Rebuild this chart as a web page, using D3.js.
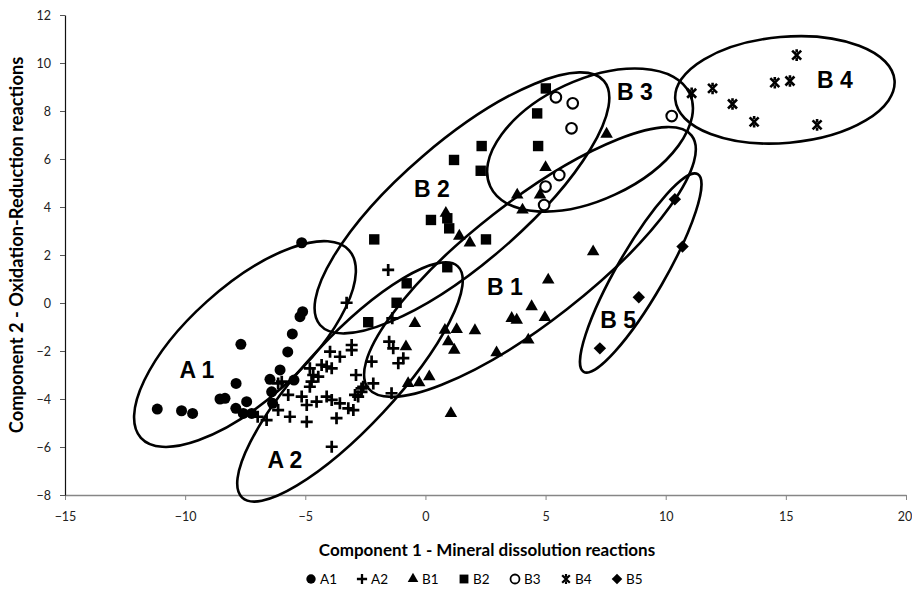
<!DOCTYPE html>
<html>
<head>
<meta charset="utf-8">
<script src="https://cdn.jsdelivr.net/npm/d3@7"></script>
<style>
  body { margin: 0; background: #fff; }
  text { font-family: Lato, "Open Sans", sans-serif; }
  .lbl { font-family: "Liberation Sans", Arial, sans-serif; font-weight: bold; font-size: 23px; }
</style>
</head>
<body>
<svg width="912" height="597"></svg>
<script>
var a1 = [[-11.16,-4.42],[-10.15,-4.49],[-9.69,-4.6],[-8.55,-4.0],[-8.34,-3.97],[-7.88,-3.35],[-7.68,-1.72],
  [-7.44,-4.11],[-7.89,-4.39],[-7.58,-4.6],[-7.23,-4.6],[-6.47,-3.18],[-6.4,-3.7],[-6.36,-4.18],[-6.05,-2.79],
  [-5.73,-2.04],[-5.54,-1.29],[-5.47,-3.21],[-5.22,-0.57],[-5.11,-0.36],[-5.15,2.51]];
var a2 = [[-1.55,1.38],[-3.28,0.01],[-1.38,-0.64],[-1.51,-1.61],[-1.34,-1.89],[-2.24,-2.44],[-1.13,-2.51],
  [-0.92,-2.3],[-3.07,-1.75],[-3.07,-1.96],[-3.97,-2.03],[-3.56,-2.24],[-4.32,-2.58],[-4.11,-2.65],[-3.9,-2.72],
  [-4.81,-2.72],[-4.67,-3.0],[-4.46,-3.07],[-4.81,-3.49],[-4.74,-3.28],[-2.89,-3.0],[-2.59,-3.49],[-2.66,-3.7],
  [-2.93,-3.83],[-2.8,-3.9],[-2.17,-3.35],[-1.41,-3.76],[-5.98,-3.28],[-5.71,-3.83],[-5.15,-3.9],[-4.94,-4.25],
  [-4.53,-4.11],[-4.11,-3.9],[-3.9,-4.04],[-3.56,-4.18],[-3.21,-4.39],[-3.0,-4.46],[-6.13,-4.46],[-5.64,-4.74],
  [-6.61,-4.88],[-4.94,-4.95],[-3.7,-4.8],[-3.9,-5.99],[-6.13,-3.35],[-6.98,-4.74],[-2.66,-3.56]];
var b1 = [[7.54,7.04],[5.0,5.65],[3.82,4.5],[4.77,4.5],[4.04,3.88],[0.85,3.74],[1.41,2.79],[1.85,2.51],
  [6.98,2.14],[5.11,0.96],[4.42,-0.15],[3.59,-0.64],[3.8,-0.71],[4.97,-0.6],[4.28,-1.54],[2.96,-2.07],
  [-0.44,-0.85],[0.81,-1.13],[1.3,-1.1],[2.06,-1.15],[0.95,-1.61],[1.2,-1.96],[-0.81,-1.82],[0.16,-3.07],
  [-0.26,-3.32],[-0.72,-3.35],[1.06,-4.6]];
var b2 = [[2.34,6.54],[1.19,5.96],[2.3,5.51],[4.69,6.54],[0.23,3.46],[0.91,3.53],[0.99,3.11],[2.52,2.65],
  [-2.13,2.65],[0.91,1.49],[-0.78,0.82],[-1.2,0.01],[-2.38,-0.8],[5.01,8.94],[4.65,7.9]];
var b3 = [[5.43,8.57],[6.13,8.32],[6.08,7.28],[5.57,5.33],[5.0,4.85],[4.94,4.08],[10.25,7.79]];
var b4 = [[11.08,8.74],[11.95,8.94],[12.78,8.29],[13.68,7.55],[14.54,9.18],[15.17,9.25],[15.45,10.33],[16.3,7.42]];
var b5 = [[10.38,4.32],[10.7,2.35],[8.88,0.24],[7.26,-1.89]];

var groupNames = ["A1", "A2", "B1", "B2", "B3", "B4", "B5"];
var xTicks = [-15, -10, -5, 0, 5, 10, 15, 20];
var yTicks = [-8, -6, -4, -2, 0, 2, 4, 6, 8, 10, 12];

// cluster ellipses: centre x, centre y, semi axes, tilt in degrees, label and label spot
var ellNames = ["A 1", "A 2", "B 1", "B 2", "B 3", "B 4", "B 5"];
var ellCx = [-7.51, -3.14, 4.35, 1.52, 6.85, 14.96, 8.96];
var ellCy = [-1.71, -3.29, 1.71, 4.17, 6.79, 8.88, 1.25];
var ellA = [5.83, 6.58, 8.54, 7.79, 4.58, 4.58, 4.75];
var ellB = [2.38, 1.88, 2.5, 2.54, 2.5, 2.21, 1.0];
var ellAng = [42, 47, 38, 40.7, 25, 5, 60];
var lblX = [-9.51, -5.85, 3.31, 0.27, 8.72, 17.04, 8.02];
var lblY = [-2.79, -6.54, 0.67, 4.75, 8.79, 9.29, -0.71];

var svg = d3.select("svg");

var x = d3.scaleLinear().domain([-15, 20]).range([65, 906]);
var y = d3.scaleLinear().domain([-8, 12]).range([495, 15]);

var gx = svg.append("g")
    .attr("transform", "translate(0," + y(-8) + ")")
    .call(d3.axisBottom(x).tickValues(xTicks).tickSize(5).tickSizeOuter(0).tickPadding(12));
gx.select(".domain").attr("stroke", "#868686").attr("stroke-width", 1.5);
gx.selectAll(".tick line").attr("stroke", "#868686");
gx.selectAll(".tick text").attr("font-size", 12.5).attr("fill", "#222").style("font-family", "Lato")
    .attr("dx", function(d) { return d == 20 ? -1.5 : 0; });

var gy = svg.append("g")
    .attr("transform", "translate(" + x(-15) + ",0)")
    .call(d3.axisLeft(y).tickValues(yTicks).tickSize(5).tickSizeOuter(0).tickPadding(9));
gy.select(".domain").attr("stroke", "#111").attr("stroke-width", 1.2);
gy.selectAll(".tick line").attr("stroke", "#555");
gy.selectAll(".tick text").attr("font-size", 12.5).attr("fill", "#222").style("font-family", "Lato");

svg.append("text")
    .attr("x", 487).attr("y", 556)
    .attr("text-anchor", "middle")
    .attr("font-size", 17).attr("font-weight", "bold")
    .text("Component 1 - Mineral dissolution reactions");

svg.append("text")
    .attr("transform", "translate(23," + 245 + ") rotate(-90)")
    .attr("text-anchor", "middle")
    .attr("font-size", 18.3).attr("font-weight", "bold")
    .text("Component 2 - Oxidation-Reduction reactions");

// ellipses
var kx = x(1) - x(0), ky = y(0) - y(1);
ellNames.forEach(function(n, i) {
  svg.append("ellipse")
      .attr("transform", "translate(" + x(ellCx[i]) + "," + y(ellCy[i]) + ") rotate(" + (-ellAng[i]) + ")")
      .attr("rx", ellA[i] * kx)
      .attr("ry", ellB[i] * ky)
      .attr("fill", "none")
      .attr("stroke", "#000")
      .attr("stroke-width", 2.6);
  svg.append("text")
      .attr("class", "lbl")
      .attr("x", x(lblX[i])).attr("y", y(lblY[i]))
      .attr("text-anchor", "middle")
      .attr("dominant-baseline", "central")
      .text(n);
});

// markers
function marker(sel, type) {
  if (type == "A1") sel.append("circle").attr("r", 5.5).attr("fill", "#000");
  else if (type == "A2") sel.append("path").attr("d", "M-6,0H6M0,-6V6").attr("stroke", "#000").attr("stroke-width", 2.7);
  else if (type == "B1") sel.append("path").attr("d", d3.symbol(d3.symbolTriangle, 68)()).attr("fill", "#000");
  else if (type == "B2") sel.append("rect").attr("x", -5.2).attr("y", -5.2).attr("width", 10.4).attr("height", 10.4).attr("fill", "#000");
  else if (type == "B3") sel.append("circle").attr("r", 5.3).attr("fill", "#fff").attr("stroke", "#000").attr("stroke-width", 2.1);
  else if (type == "B4") sel.append("path").attr("d", "M-4.5,-4.5L4.5,4.5M4.5,-4.5L-4.5,4.5M0,-5.8V-2.5M0,2.5V5.8")
      .attr("stroke", "#000").attr("stroke-width", 2.6);
  else if (type == "B5") sel.append("rect").attr("x", -4.4).attr("y", -4.4).attr("width", 8.8).attr("height", 8.8)
      .attr("transform", "rotate(45)").attr("fill", "#000");
}

var groups = [a1, a2, b1, b2, b3, b4, b5];
groups.forEach(function(pts, i) {
  svg.append("g").selectAll("g")
    .data(pts)
    .enter().append("g")
      .attr("transform", function(d) { return "translate(" + x(d[0]) + "," + y(d[1]) + ")"; })
      .each(function() { marker(d3.select(this), groupNames[i]); });
});

// legend
var leg = svg.append("g").attr("transform", "translate(311,579)");
groupNames.forEach(function(n, i) {
  var it = leg.append("g").attr("transform", "translate(" + (i * 51) + ",0)");
  var m = it.append("g").attr("transform", "scale(0.85)");
  marker(m, n);
  it.append("text").attr("x", 9).attr("y", 5).attr("font-size", 13.5).text(n);
});
</script>
</body>
</html>
